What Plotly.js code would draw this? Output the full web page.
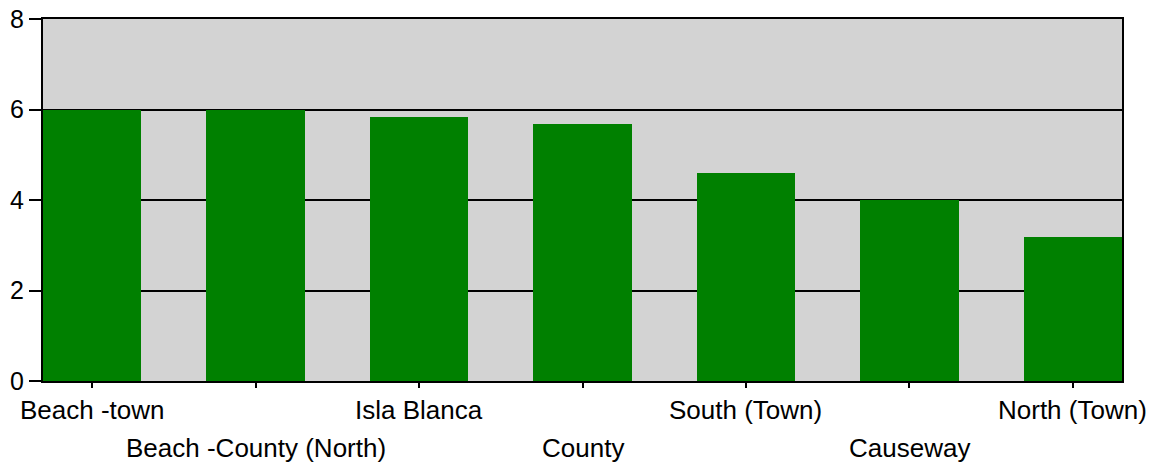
<!DOCTYPE html>
<html>
<head>
<meta charset="utf-8">
<script src="https://cdn.plot.ly/plotly-3.0.1.min.js"></script>
<style>html,body{margin:0;padding:0;background:#fff;}#chart{width:1159px;height:464px;}</style>
</head>
<body>
<div id="chart"></div>
<script>
var categories = ["Beach -town", "Beach -County (North)", "Isla Blanca", "County", "South (Town)", "Causeway", "North (Town)"];
var values = [6.0, 6.0, 5.83, 5.68, 4.6, 4.0, 3.18];
var yTicks = [0, 2, 4, 6, 8];

var FONT = "Liberation Sans, Arial, sans-serif";
var idx = categories.map(function (c, i) { return i; });

var annotations = categories.map(function (c, i) {
  return {
    x: i, xref: "x", y: 0, yref: "paper",
    text: c, showarrow: false,
    xanchor: "center", yanchor: "middle",
    yshift: (i % 2 === 0) ? -29 : -67,
    font: {family: FONT, size: 26, color: "#000"}
  };
});

var data = [{
  type: "bar",
  x: idx,
  y: values,
  width: 0.6,
  marker: {color: "#008000", line: {width: 0}},
  hoverinfo: "skip"
}];

var layout = {
  width: 1159, height: 464,
  margin: {l: 43, r: 37, t: 19, b: 83, pad: 0},
  paper_bgcolor: "#ffffff",
  plot_bgcolor: "#d3d3d3",
  showlegend: false,
  bargap: 0,
  xaxis: {
    range: [-0.3, 6.3],
    tickmode: "array", tickvals: idx, ticktext: idx.map(function () { return ""; }),
    ticks: "outside", ticklen: 5, tickwidth: 2, tickcolor: "#000",
    showgrid: false, zeroline: false,
    showline: true, linecolor: "#000", linewidth: 2, mirror: true,
    fixedrange: true
  },
  yaxis: {
    range: [0, 8],
    tickmode: "array", tickvals: yTicks, ticktext: yTicks.map(String),
    ticks: "outside", ticklen: 12, tickwidth: 2, tickcolor: "#000",
    tickfont: {family: FONT, size: 25, color: "#000"},
    showgrid: true, gridcolor: "#000", gridwidth: 2,
    zeroline: false,
    showline: true, linecolor: "#000", linewidth: 2, mirror: true,
    fixedrange: true
  },
  annotations: annotations
};

Plotly.newPlot("chart", data, layout, {displayModeBar: false, staticPlot: true});
</script>
</body>
</html>
